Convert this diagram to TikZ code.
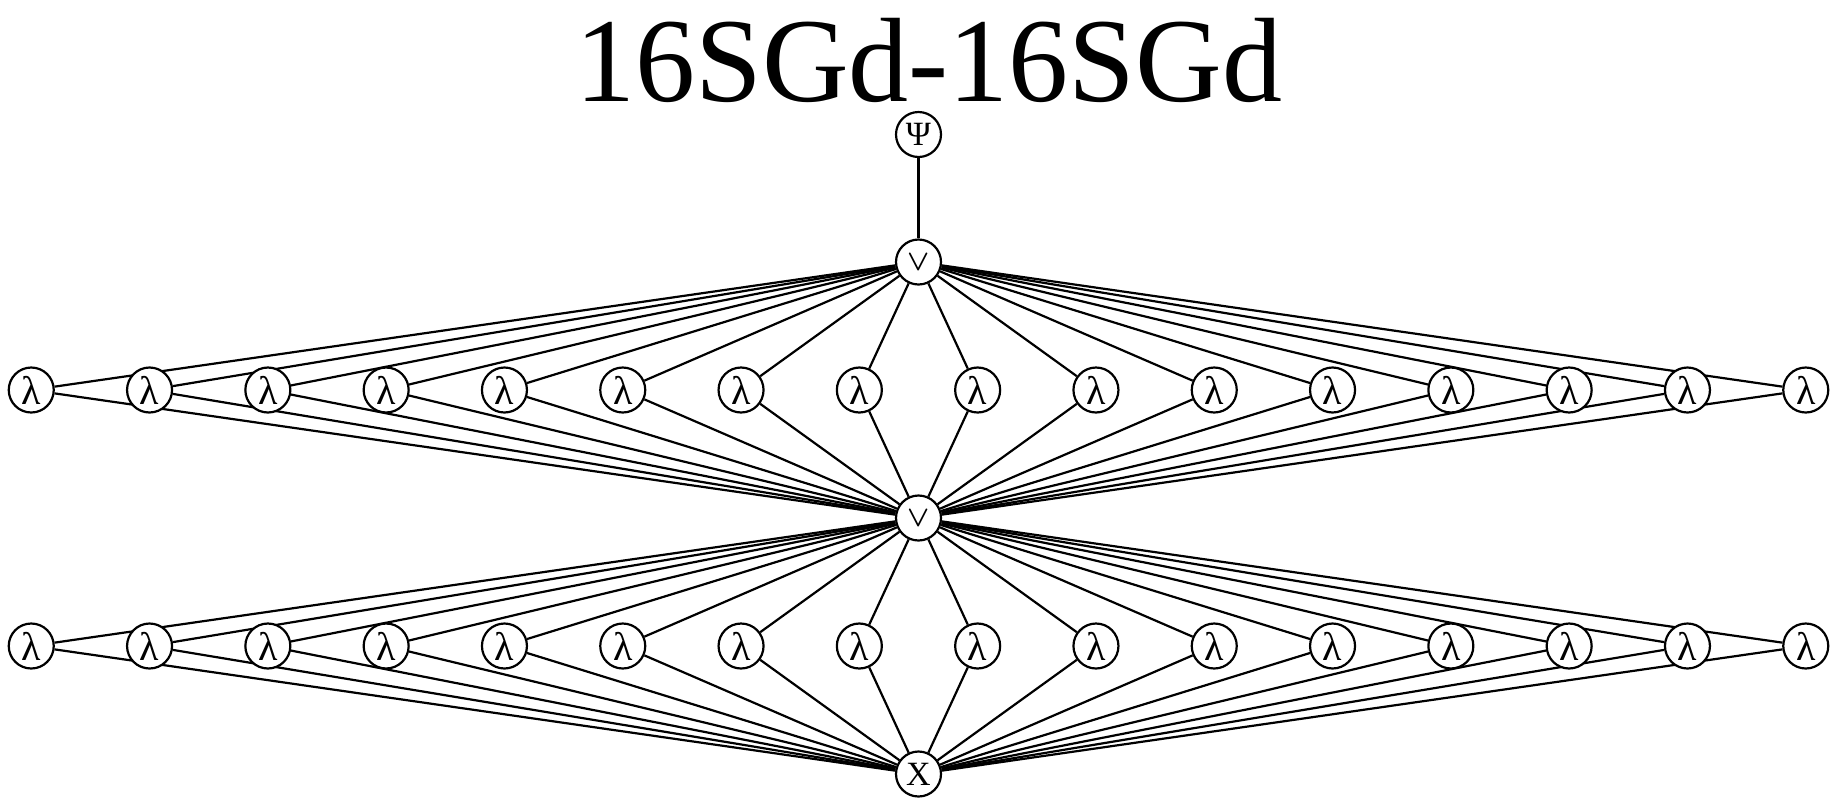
\documentclass[tikz,border=0pt]{standalone}
\usepackage{graphicx}
\usepackage{fontspec}
\setmainfont{Liberation Serif}
\usetikzlibrary{backgrounds}
\begin{document}
\begin{tikzpicture}[x=1pt,y=-1pt,
  vertex/.style={circle,draw,fill=white,line width=2.2pt,minimum size=45pt,inner sep=0pt},
  lam/.style={vertex,font=\fontsize{40}{40}\selectfont},
  sym/.style={vertex,font=\fontsize{34}{34}\selectfont},
  orn/.style={vertex},
  edge/.style={line width=2.2pt}]
\useasboundingbox (0,0) rectangle (1839,807);
\node[anchor=base,inner sep=0pt,text depth=0pt,font=\fontsize{120}{120}\selectfont] (title) at (929,101.7) {16SGd-16SGd};
\node[sym] (psi) at (918.5,134.5) {Ψ};
\node[orn] (or1) at (918.5,262) {\scalebox{2.9}{\boldmath$\vee$}};
\node[orn] (or2) at (918.5,518) {\scalebox{2.9}{\boldmath$\vee$}};
\node[sym] (x) at (918.5,774) {X};
\foreach \i in {0,...,15}{
  \node[lam] (a\i) at ({918.5+(\i-7.5)*118.3},390) {λ};
  \node[lam] (b\i) at ({918.5+(\i-7.5)*118.3},646) {λ};
}
\begin{pgfonlayer}{background}
\draw[edge] (psi) -- (or1);
\foreach \i in {0,...,15}{
  \draw[edge] (a\i) -- (or1);
  \draw[edge] (a\i) -- (or2);
  \draw[edge] (b\i) -- (or2);
  \draw[edge] (b\i) -- (x);
}
\end{pgfonlayer}
\end{tikzpicture}
\end{document}
